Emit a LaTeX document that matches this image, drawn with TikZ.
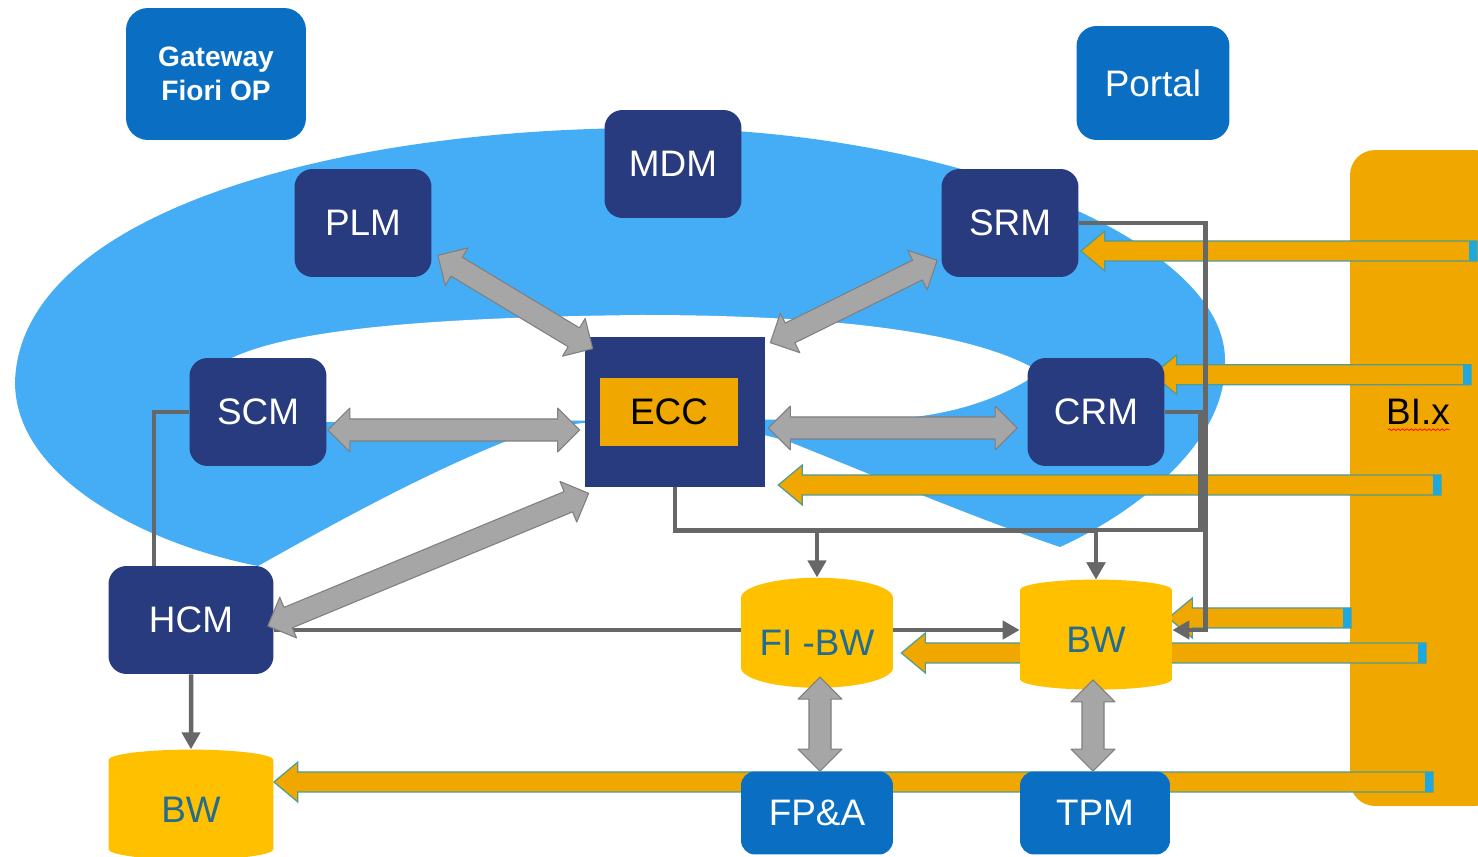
\documentclass[tikz,border=0pt]{standalone}
\usepackage{fontspec}
\setmainfont{Liberation Sans}
\usetikzlibrary{arrows.meta,calc,positioning,shapes.geometric,backgrounds,decorations.pathmorphing}

\definecolor{ringblue}{HTML}{45ADF6}
\definecolor{navybox}{HTML}{283B7E}
\definecolor{sapblue}{HTML}{0A6FC2}
\definecolor{biorange}{HTML}{F0A800}
\definecolor{dbgold}{HTML}{FFC000}
\definecolor{dbtext}{HTML}{236C8F}
\definecolor{blockgray}{HTML}{A6A6A6}
\definecolor{blockedge}{HTML}{7F7F7F}
\definecolor{wiregray}{HTML}{676767}
\definecolor{arrowedge}{HTML}{4F9C93}
\definecolor{capcyan}{HTML}{1DA8E0}

\newcommand{\dblarrow}[2]{%
	\coordinate (ga) at ($(#1)!0.44cm!(#2)$);
	\coordinate (gb) at ($(#2)!0.44cm!(#1)$);
	\draw[grayblock] (#1) -- ($(ga)!0.44cm!90:(#2)$) -- ($(ga)!0.22cm!90:(#2)$)
		-- ($(gb)!0.22cm!-90:(#1)$) -- ($(gb)!0.44cm!-90:(#1)$) -- (#2)
		-- ($(gb)!0.44cm!90:(#1)$) -- ($(gb)!0.22cm!90:(#1)$)
		-- ($(ga)!0.22cm!-90:(#2)$) -- ($(ga)!0.44cm!-90:(#2)$) -- cycle;}
\newcommand{\biarrow}[2]{%
	\draw[orangeblock] (#1) -- ($(#1)+(24,-20)$) -- ($(#1)+(24,-10)$) -- ($(#2 |- #1)+(0,-10)$)
		-- ($(#2 |- #1)+(0,10)$) -- ($(#1)+(24,10)$) -- ($(#1)+(24,20)$) -- cycle;
	\fill[capcyan] ($(#2 |- #1)+(-8,-10)$) rectangle ($(#2 |- #1)+(0,10)$);}

\begin{document}
\begin{tikzpicture}[x=0.02cm,y=-0.02cm,
		sysbox/.style={rectangle,rounded corners=0.36cm,fill=navybox,text=white,minimum width=2.74cm,minimum height=2.16cm,inner sep=0pt,font=\fontsize{21}{25}\selectfont},
		appbox/.style={sysbox,fill=sapblue},
		dbnode/.style={cylinder,shape border rotate=90,aspect=0.35,fill=dbgold,text=dbtext,minimum width=3.04cm,minimum height=2.2cm,inner sep=0pt,font=\fontsize{21}{25}\selectfont},
		wire/.style={draw=wiregray,line width=0.09cm},
		wiretip/.style={-{Triangle[length=0.34cm,width=0.36cm]}},
		grayblock/.style={fill=blockgray,draw=blockedge,line width=0.6pt,line join=round},
		orangeblock/.style={fill=biorange,draw=arrowedge,line width=0.7pt}
		]
		\useasboundingbox (0,0) rectangle (1478,857);
		\node[appbox,minimum width=3.6cm,minimum height=2.64cm,rounded corners=0.44cm,align=center,font=\bfseries\fontsize{16}{19}\selectfont] (gateway) at (216,74) {Gateway\\Fiori OP};
		\node[appbox,minimum width=3.06cm,minimum height=2.28cm,rounded corners=0.4cm] (portal) at (1153,83) {Portal};
		\node[sysbox] (mdm) at (673,164) {MDM};
		\node[sysbox] (plm) at (363,223) {PLM};
		\node[sysbox] (srm) at (1010,223) {SRM};
		\node[sysbox] (scm) at (258,412) {SCM};
		\node[sysbox] (crm) at (1096,412) {CRM};
		\node[sysbox,minimum width=3.3cm] (hcm) at (191,620) {HCM};
		\node[rectangle,fill=navybox,minimum width=3.6cm,minimum height=3cm,inner sep=0pt] (ecc) at (675,412) {};
		\node[rectangle,fill=biorange,minimum width=2.76cm,minimum height=1.38cm,inner sep=0pt,font=\fontsize{21}{25}\selectfont] (eccin) at (669,412) {ECC};
		\node[dbnode] (fibw) at (817,643) {FI -BW};
		\node[dbnode] (bw) at (1096,640) {BW};
		\node[dbnode,minimum width=3.3cm] (bwl) at (191,810) {BW};
		\node[appbox,minimum width=3.04cm,minimum height=1.66cm,rounded corners=0.28cm] (fpa) at (817,813) {FP\&A};
		\node[appbox,minimum width=3cm,minimum height=1.66cm,rounded corners=0.28cm] (tpm) at (1095,813) {TPM};
		\node[font=\fontsize{21}{25}\selectfont] (bilabel) at (1418,412) {BI.x};
		\draw[red,line width=0.4pt,decorate,decoration={snake,amplitude=0.5pt,segment length=2.5pt}] ($(bilabel.base west)+(8,5)$) -- ($(bilabel.base east)+(-6,5)$);
		\begin{scope}[on background layer]
			\fill[white] (0,0) rectangle (1478,857);
			\fill[ringblue] (15,382) .. controls (20,215) and (330,128) .. (650,128) .. controls (950,128) and (1225,240) .. (1225,360)
				.. controls (1228,450) and (1120,520) .. (1060,547) .. controls (980,520) and (860,470) .. (790,442)
				.. controls (700,415) and (600,415) .. (530,432) .. controls (440,465) and (340,520) .. (258,566)
				.. controls (150,545) and (15,480) .. (15,382) -- cycle;
			\fill[white] (196,395) .. controls (205,335) and (380,318) .. (640,315) .. controls (850,315) and (980,335) .. (1040,372)
				.. controls (1000,400) and (950,415) .. (893,419) -- (330,422) .. controls (260,420) and (200,415) .. (196,395) -- cycle;
			\node[fill=biorange,rounded corners=0.5cm,minimum width=3cm,minimum height=13.12cm,inner sep=0pt] (bix) at (1425,478) {};
			\coordinate (srmtip) at ($(srm.east)+(2,28)$);
			\coordinate (crmtip) at ($(crm.north east)+(-12,17)$);
			\coordinate (ecctip) at ($(ecc.east)+(13,73)$);
			\coordinate (bwtip) at ($(bw.east)+(-4,-22)$);
			\coordinate (fibwtip) at ($(fibw.east)+(8,10)$);
			\coordinate (bwltip) at ($(bwl.east)+(0,-28)$);
			\coordinate (bi1) at (1477,251);
			\coordinate (bi2) at (1471,375);
			\coordinate (bi3) at (1441,485);
			\coordinate (bi4) at (1351,618);
			\coordinate (bi5) at (1426,653);
			\coordinate (bi6) at (1433,782);
			\biarrow{srmtip}{bi1}
			\biarrow{crmtip}{bi2}
			\biarrow{ecctip}{bi3}
			\biarrow{bwtip}{bi4}
			\biarrow{fibwtip}{bi5}
			\biarrow{bwltip}{bi6}
			\coordinate (bwleft) at ($(bw.west)+(0,-10)$);
			\coordinate (bwright) at ($(bw.east)+(0,-10)$);
			\draw[wire] (scm.west) -| ($(hcm.north west)+(46,0)$);
			\draw[wire,wiretip] (hcm.south) -- (bwl.north);
			\draw[wire,wiretip] (hcm.east |- bwleft) -- (bwleft);
			\draw[wire,wiretip] (srm.east) -| ($(bwright)+(33,0)$) -- (bwright);
			\draw[wire,wiretip] (crm.east) -| ($(bw.east)+(28,-110)$) -| (bw.north);
			\draw[wire,wiretip] (ecc.south) -- ++(0,43) -| (fibw.north);
			\draw[wire,wiretip] (ecc.south) -- ++(0,43) -| (bw.north);
		\end{scope}
		\coordinate (plmA) at ($(plm.south east)+(6,-22)$);
		\coordinate (plmB) at ($(ecc.north west)+(8,12)$);
		\coordinate (srmA) at ($(srm.south west)+(-4,-17)$);
		\coordinate (srmB) at ($(ecc.north east)+(5,6)$);
		\coordinate (scmA) at ($(scm.east)+(1,18)$);
		\coordinate (scmB) at ($(ecc.west)+(-5,18)$);
		\coordinate (crmA) at ($(ecc.east)+(3,16)$);
		\coordinate (crmB) at ($(crm.west)+(-10,16)$);
		\coordinate (hcmA) at ($(hcm.east)+(-6,6)$);
		\coordinate (hcmB) at ($(ecc.south west)+(4,6)$);
		\coordinate (fpaA) at ($(fibw.south)+(3,-11)$);
		\coordinate (fpaB) at ($(fpa.north)+(3,0)$);
		\coordinate (tpmA) at ($(bw.south)+(-3,-10)$);
		\coordinate (tpmB) at ($(tpm.north)+(-2,0)$);
		\dblarrow{plmA}{plmB}
		\dblarrow{srmA}{srmB}
		\dblarrow{scmA}{scmB}
		\dblarrow{crmA}{crmB}
		\dblarrow{hcmA}{hcmB}
		\dblarrow{fpaA}{fpaB}
		\dblarrow{tpmA}{tpmB}
\end{tikzpicture}
\end{document}
